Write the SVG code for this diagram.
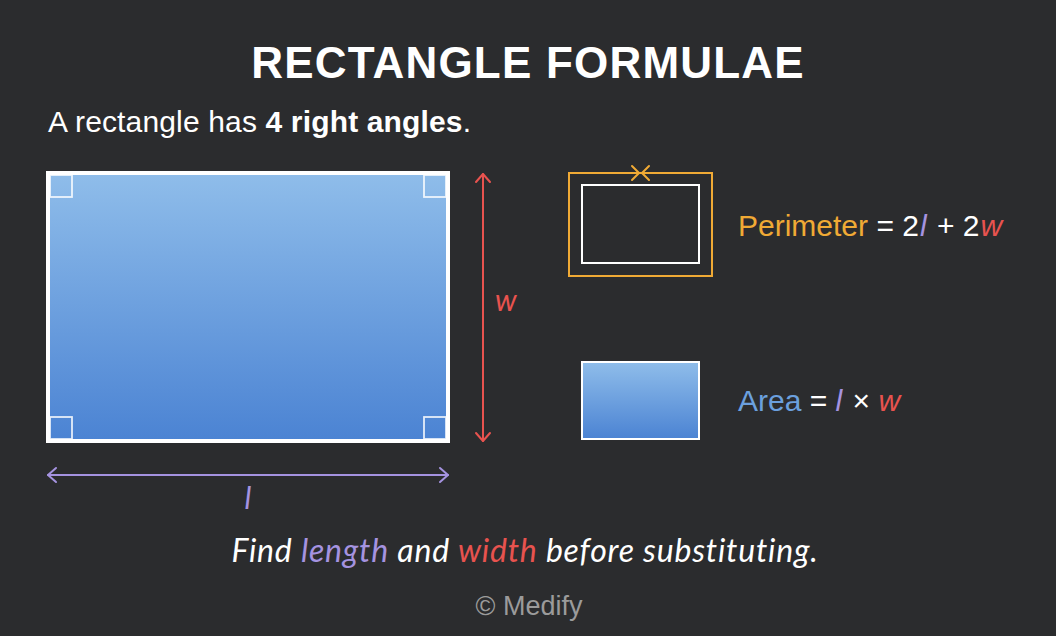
<svg xmlns="http://www.w3.org/2000/svg" width="1056" height="636" viewBox="0 0 1056 636">
<defs>
<linearGradient id="blue" x1="0" y1="0" x2="0" y2="1">
<stop offset="0" stop-color="#8fbdea"/>
<stop offset="1" stop-color="#4b83d3"/>
</linearGradient>
<style>
.t{font-family:"Liberation Sans",Arial,sans-serif;fill:#ffffff}
.h{font-family:"Lato","Noto Sans",sans-serif;font-style:italic;fill:#ffffff}
.corner{fill:none;stroke:#ffffff;stroke-opacity:0.85;stroke-width:1.8}
.white{fill:#ffffff}
.purple{fill:#a593e0}
.red{fill:#e8534f}
.orange{fill:#f0aa35}
.blue{fill:#6ba0de}
</style>
</defs>
<rect width="1056" height="636" fill="#2b2c2e"/>
<text class="t" x="528" y="78" font-size="44" font-weight="bold" text-anchor="middle" letter-spacing="1.2">RECTANGLE FORMULAE</text>
<text class="t" x="48" y="132" font-size="30" letter-spacing="0.15">A rectangle has <tspan font-weight="bold">4 right angles</tspan>.</text>

<g id="main-rect">
<rect x="48" y="173" width="400" height="268" fill="url(#blue)" stroke="#ffffff" stroke-width="4"/>
<rect class="corner" x="50" y="175" width="22" height="22"/>
<rect class="corner" x="424" y="175" width="22" height="22"/>
<rect class="corner" x="50" y="417" width="22" height="22"/>
<rect class="corner" x="424" y="417" width="22" height="22"/>
</g>

<g id="connectors" fill="none" stroke-width="2" stroke-linecap="round" stroke-linejoin="round">
<g stroke="#e8534f">
<line x1="483" y1="174" x2="483" y2="441"/>
<polyline points="476,182 483,174 490,182"/>
<polyline points="476,433 483,441 490,433"/>
</g>
<g stroke="#a593e0">
<line x1="48" y1="475" x2="448" y2="475"/>
<polyline points="56,468 48,475 56,482"/>
<polyline points="440,468 448,475 440,482"/>
</g>
</g>
<g id="label-w"><text class="h red" x="495" y="311" font-size="30">w</text></g>
<g id="label-l"><text class="h purple" x="248" y="509" font-size="30" text-anchor="middle">l</text></g>

<g id="perimeter-icon">
<rect x="569" y="173" width="143" height="103" fill="none" stroke="#f0aa35" stroke-width="2"/>
<rect x="582" y="185" width="117" height="78" fill="none" stroke="#ffffff" stroke-width="2"/>
<polyline points="632,166 639,173 632,180" fill="none" stroke="#f0aa35" stroke-width="2" stroke-linecap="round" stroke-linejoin="round"/>
<polyline points="649,166 642,173 649,180" fill="none" stroke="#f0aa35" stroke-width="2" stroke-linecap="round" stroke-linejoin="round"/>
</g>
<g id="perimeter-label">
<text class="t" x="738" y="236" font-size="30"><tspan class="orange">Perimeter</tspan><tspan class="white"> = 2</tspan><tspan class="purple" font-style="italic" dx="1">l</tspan><tspan class="white" dx="2"> + 2</tspan><tspan class="red" font-style="italic" dx="1">w</tspan></text>
</g>

<g id="area-icon">
<rect x="582" y="362" width="117" height="77" fill="url(#blue)" stroke="#ffffff" stroke-width="2"/>
</g>
<g id="area-label">
<text class="t" x="738" y="411" font-size="30"><tspan class="blue">Area</tspan><tspan class="white"> = </tspan><tspan class="purple" font-style="italic">l</tspan><tspan class="white" dx="2"> × </tspan><tspan class="red" font-style="italic">w</tspan></text>
</g>

<text class="h" x="525" y="562" font-size="32" text-anchor="middle" letter-spacing="0.8">Find <tspan class="purple">length</tspan> and <tspan class="red">width</tspan> before substituting.</text>
<text x="529" y="615" font-size="27" text-anchor="middle" font-family="Liberation Sans,Arial,sans-serif" fill="#9b9b9b">© Medify</text>
</svg>
